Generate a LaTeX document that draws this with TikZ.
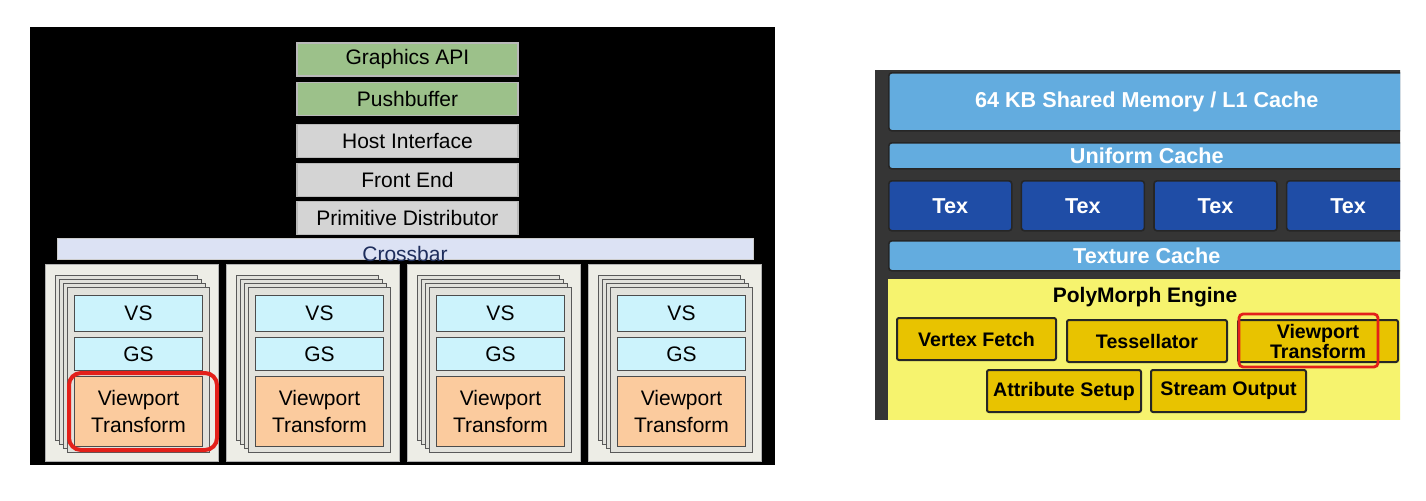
\documentclass[tikz,border=0pt]{standalone}
\usepackage{fontspec}
\setmainfont{Liberation Sans}
\usetikzlibrary{positioning, calc}

\definecolor{apigreen}{HTML}{9CC18A}
\definecolor{hostgrey}{HTML}{D4D4D4}
\definecolor{xbarblue}{HTML}{DCE2F4}
\definecolor{xbartext}{HTML}{1E2D5C}
\definecolor{clusterbg}{HTML}{EDEDE6}
\definecolor{pagebg}{HTML}{E2E2DC}
\definecolor{shadercyan}{HTML}{CCF3FC}
\definecolor{vtpeach}{HTML}{FBCB9E}
\definecolor{hilite}{HTML}{E3201A}
\definecolor{smframe}{HTML}{353535}
\definecolor{cacheblue}{HTML}{63ACDF}
\definecolor{texblue}{HTML}{1F4DA6}
\definecolor{pmyellow}{HTML}{F6F36E}
\definecolor{unitgold}{HTML}{E8C300}

\begin{document}
\begin{tikzpicture}[
        x=0.5pt, y=-0.5pt,
        stage/.style={
            rectangle,
            draw=gray!55,
            line width=0.6pt,
            minimum width=110.5pt,
            minimum height=16.5pt,
            inner sep=0pt,
            font=\fontsize{10.5}{13}\selectfont
        },
        apibox/.style={stage, fill=apigreen},
        hostbox/.style={stage, fill=hostgrey},
        xbar/.style={
            rectangle,
            draw=gray!40,
            fill=xbarblue,
            minimum width=348pt,
            minimum height=10.5pt,
            inner sep=0pt
        },
        cluster/.style={
            rectangle,
            draw=gray!60,
            fill=clusterbg,
            minimum width=86.5pt,
            minimum height=98.5pt,
            inner sep=0pt
        },
        page/.style={
            rectangle,
            draw=black!65,
            fill=pagebg,
            line width=0.5pt,
            minimum width=71pt,
            minimum height=82.5pt,
            inner sep=0pt
        },
        shader/.style={
            rectangle,
            draw=black!70,
            fill=shadercyan,
            line width=0.5pt,
            minimum width=64pt,
            inner sep=0pt,
            align=center,
            font=\fontsize{10.5}{13.5}\selectfont
        },
        vtbox/.style={shader, fill=vtpeach, minimum height=35pt},
        cachebar/.style={
            rectangle,
            rounded corners=1.5pt,
            draw=black!85,
            line width=0.8pt,
            fill=cacheblue,
            minimum width=258pt,
            inner sep=0pt,
            text=white,
            font=\fontsize{10.8}{13}\selectfont\bfseries
        },
        texbox/.style={cachebar, fill=texblue, minimum width=61.5pt, minimum height=25pt},
        unit/.style={
            rectangle,
            rounded corners=1pt,
            draw=black!85,
            line width=1pt,
            fill=unitgold,
            minimum height=21pt,
            inner sep=0pt,
            align=center,
            font=\fontsize{9.8}{10}\selectfont\bfseries
        }
    ]

    \useasboundingbox (0,0) rectangle (1426,500);
    \fill[white] (0,0) rectangle (1426,500);

    % ------------------------------------------------------------------
    % Left: classic pipeline on black
    % ------------------------------------------------------------------
    \fill[black] (30,27) rectangle (775,465);

    % Front stages
    \node[apibox] (api) at (407.5,59.5) {Graphics API};
    \node[apibox, below=2.5pt of api] (push) {Pushbuffer};
    \node[hostbox, below=4pt of push] (host) {Host Interface};
    \node[hostbox, below=2.5pt of host] (frontend) {Front End};
    \node[hostbox, below=2pt of frontend] (primdist) {Primitive Distributor};

    % Crossbar
    \node[xbar] (crossbar) at (405,248.5) {};
    \node[font=\fontsize{10.5}{13}\selectfont, text=xbartext] (xbarlabel)
        at ($(crossbar.center)+(0,5)$) {Crossbar};

    % Four clusters, each a stack of pages
    \foreach \i/\x in {1/45, 2/226, 3/407, 4/588} {
        \node[cluster, anchor=north west] (cl\i) at (\x,264) {};
        \foreach \k in {3,2,1}
            \node[page, anchor=north west] at ($(cl\i.north west)+(22-4*\k,23-4*\k)$) {};
        \node[page, anchor=north west] (pg\i) at ($(cl\i.north west)+(22,23)$) {};
        \node[shader, minimum height=18pt, below=4pt of pg\i.north] (vs\i) {VS};
        \node[shader, minimum height=16.5pt, below=2.5pt of vs\i] (gs\i) {GS};
        \node[vtbox, below=2.5pt of gs\i] (vt\i) {Viewport\\Transform};
    }

    % Highlight on the first viewport transform
    \draw[hilite, line width=2pt, rounded corners=6pt]
        ($(vt1.north west)+(-5,-3)$) rectangle ($(vt1.south east)+(14,3)$);

    % ------------------------------------------------------------------
    % Right: SM with PolyMorph engine
    % ------------------------------------------------------------------
    \begin{scope}
        \clip (870,60) rectangle (1400,430);
        \fill[smframe] (875,70) rectangle (1410,279);
        \fill[smframe] (875,279) rectangle (888,420);
        \fill[pmyellow] (888,279) rectangle (1410,420);

        % Memory and caches
        \node[cachebar, anchor=north west, minimum height=29pt] (shmem) at (888,72)
            {64 KB Shared Memory / L1 Cache};
        \node[cachebar, anchor=north west, minimum height=13pt] (unicache) at (888,142)
            {Uniform Cache};
        \node[texbox, anchor=north west] (tex1) at (888,180) {Tex};
        \node[texbox, right=4pt of tex1] (tex2) {Tex};
        \node[texbox, right=4pt of tex2] (tex3) {Tex};
        \node[texbox, right=4pt of tex3] (tex4) {Tex};
        \node[cachebar, anchor=north west, minimum height=15pt] (texcache) at (888,240)
            {Texture Cache};

        % PolyMorph engine
        \node[font=\fontsize{10.5}{13}\selectfont\bfseries] (pmtitle) at (1145,297)
            {PolyMorph Engine};
        \node[unit, minimum width=79.5pt] (vfetch) at (976.5,339) {Vertex Fetch};
        \node[unit, minimum width=80pt, right=4.5pt of vfetch, yshift=-1pt] (tess) {Tessellator};
        \node[unit, minimum width=80pt, right=4.5pt of tess] (vtpm) {Viewport\\Transform};
        \node[unit, minimum width=77pt] (attrib) at (1064,391) {Attribute Setup};
        \node[unit, minimum width=77.5pt, right=4pt of attrib] (streamout) {Stream Output};

        % Highlight on the viewport transform unit
        \draw[hilite, line width=1.4pt, rounded corners=2pt]
            ($(vtpm.north west)+(2,-5)$) rectangle ($(vtpm.south east)+(-21,4)$);
    \end{scope}

\end{tikzpicture}
\end{document}
